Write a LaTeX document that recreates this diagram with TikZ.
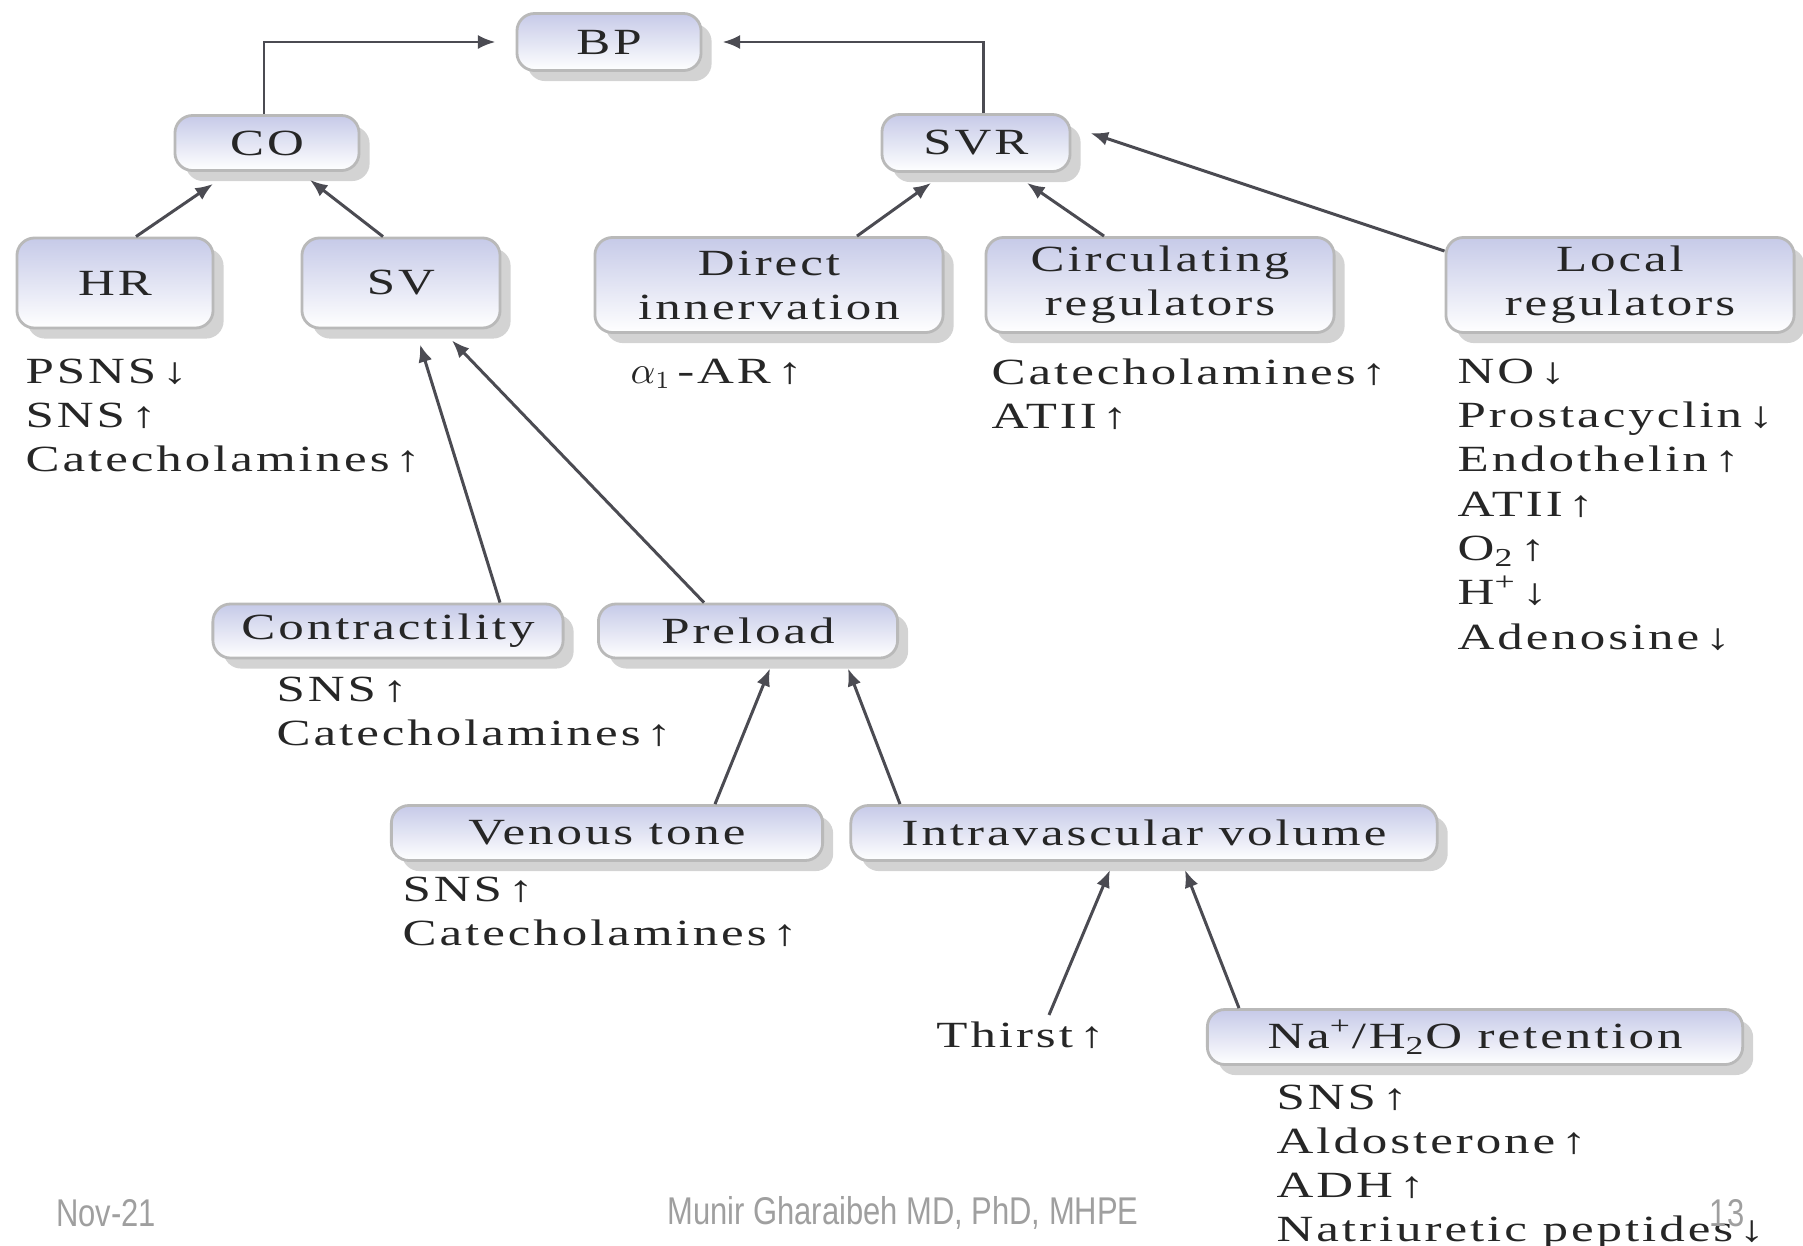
\documentclass[tikz,border=0pt]{standalone}
\usepackage{fontspec}
\setmainfont{Liberation Serif}[FakeStretch=1.38, LetterSpace=8]
\setsansfont{Liberation Sans}[FakeStretch=0.8]
\usetikzlibrary{arrows.meta,calc,shadows}
\definecolor{boxtop}{RGB}{198,202,232}
\definecolor{linegray}{RGB}{75,75,82}
\newcommand{\upar}{\,\textbf{↑}}
\newcommand{\dnar}{\,\textbf{↓}}

\begin{document}
\begin{tikzpicture}[
    x=0.01cm, y=-0.01cm,
    font=\fontsize{10.5}{12.5}\selectfont,
    box/.style={rectangle, rounded corners=5pt, draw=gray!55, thick,
        top color=boxtop, bottom color=white,
        drop shadow={shadow xshift=3pt, shadow yshift=-3pt, opacity=0.35},
        align=center, inner sep=2pt, text=black!85},
    lst/.style={anchor=north west, align=left, inner sep=0pt, text=black!85},
    conn/.style={draw=linegray, line width=0.85pt,
        -{Latex[length=5pt,width=4pt]}},
    foot/.style={font=\sffamily\fontsize{11}{12}\selectfont, text=gray!75},
    ]
    \useasboundingbox (0,0) rectangle (1803,1245);

    % top level
    \node[box, minimum width=1.84cm, minimum height=0.57cm] (bp) at (609,42) {BP};
    \node[box, minimum width=1.84cm, minimum height=0.55cm] (co) at (267,143) {CO};
    \node[box, minimum width=1.88cm, minimum height=0.57cm] (svr) at (976,143) {SVR};

    % second level
    \node[box, minimum width=1.96cm, minimum height=0.90cm] (hr) at (115,283) {HR};
    \node[box, minimum width=1.98cm, minimum height=0.90cm] (sv) at (401,283) {SV};
    \node[box, minimum width=3.48cm, minimum height=0.95cm] (dir) at (769,285) {Direct\\innervation};
    \node[box, minimum width=3.48cm, minimum height=0.95cm] (circ) at (1160,285) {Circulating\\regulators};
    \node[box, minimum width=3.48cm, minimum height=0.95cm] (loc) at (1620,285) {Local\\regulators};

    \node[lst] (hrlist) at (25,358) {PSNS\dnar\\SNS\upar\\Catecholamines\upar};
    \node[lst] (dirlist) at (630,358) {$\alpha_1$\,-AR\upar};
    \node[lst] (circlist) at (991,358) {Catecholamines\upar\\ATII\upar};
    \node[lst, font=\fontsize{10.5}{12.6}\selectfont] (loclist) at (1457,358)
        {NO\dnar\\Prostacyclin\dnar\\Endothelin\upar\\ATII\upar\\O\textsubscript{2}\upar\\H\textsuperscript{+}\dnar\\Adenosine\dnar};

    % stroke volume branch
    \node[box, minimum width=3.50cm, minimum height=0.54cm] (contr) at (388,631) {Contractility};
    \node[box, minimum width=2.99cm, minimum height=0.54cm] (pre) at (748,631) {Preload};
    \node[lst] (contrlist) at (276,676) {SNS\upar\\Catecholamines\upar};

    \node[box, minimum width=4.31cm, minimum height=0.55cm] (ven) at (607,833) {Venous tone};
    \node[box, minimum width=5.86cm, minimum height=0.55cm] (intra) at (1144,833) {Intravascular volume};
    \node[lst] (venlist) at (402,876) {SNS\upar\\Catecholamines\upar};

    \node[inner sep=0pt, text=black!85] (thirst) at (1022,1035) {Thirst\upar};
    \node[box, minimum width=5.35cm, minimum height=0.55cm] (na) at (1475,1037)
        {Na\textsuperscript{+}/H\textsubscript{2}O retention};
    \node[lst] (nalist) at (1276,1084) {SNS\upar\\Aldosterone\upar\\ADH\upar\\Natriuretic peptides\dnar};

    % connectors
    \draw[conn, shorten >=0.2cm] ($(co.north)+(-3,0)$) |- (bp.west);
    \draw[conn, shorten >=0.2cm] ($(svr.north)+(7,0)$) |- (bp.east);
    \draw[conn] ($(hr.north)+(21,0)$) -- ($(co.south)+(-54,12)$);
    \draw[conn] ($(sv.north)+(-18,0)$) -- ($(co.south)+(43,8)$);
    \draw[conn] ($(dir.north)+(88,0)$) -- ($(svr.south)+(-45,10)$);
    \draw[conn] ($(circ.north)+(-56,0)$) -- ($(svr.south)+(51,10)$);
    \draw[conn] ($(loc.north west)+(0,15)$) -- ($(svr.east)+(19,-10)$);
    \draw[conn] ($(contr.north)+(112,0)$) -- ($(sv.south)+(19,15)$);
    \draw[conn] ($(pre.north)+(-44,0)$) -- ($(sv.south)+(51,11)$);
    \draw[conn] ($(ven.north)+(108,0)$) -- ($(pre.south)+(22,9)$);
    \draw[conn] ($(intra.north)+(-244,0)$) -- ($(pre.south)+(100,9)$);
    \draw[conn] ($(thirst.north)+(27,-6)$) -- ($(intra.south)+(-34,8)$);
    \draw[conn] ($(na.north)+(-236,0)$) -- ($(intra.south)+(41,8)$);

    % footer
    \node[foot] (date) at (106,1213) {Nov-21};
    \node[foot] (author) at (903,1213) {Munir Gharaibeh MD, PhD, MHPE};
    \node[foot] (page) at (1727,1213) {13};
\end{tikzpicture}
\end{document}
